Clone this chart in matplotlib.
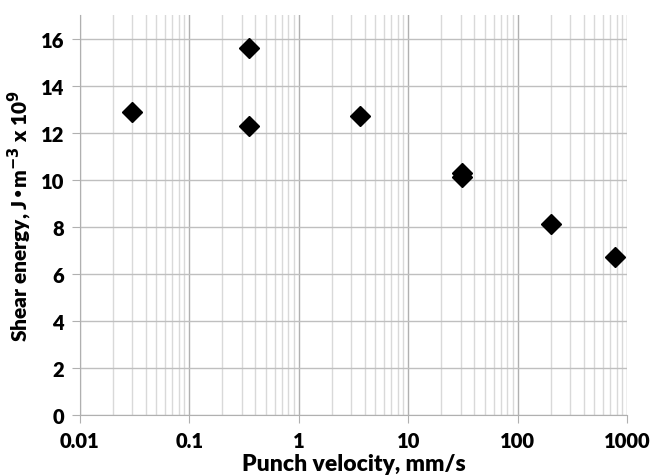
import matplotlib
matplotlib.use('Agg')
import matplotlib.pyplot as plt
from matplotlib.ticker import LogLocator, FixedLocator, NullFormatter

# punch velocity (mm/s) and shear energy (J m^-3 x 1e9)
velocity = [0.03, 0.35, 0.35, 3.6, 31, 31, 200, 780]
energy = [12.9, 15.6, 12.3, 12.7, 10.3, 10.1, 8.1, 6.7]

x_ticks = [0.01, 0.1, 1, 10, 100, 1000]
x_tick_labels = ['0.01', '0.1', '1', '10', '100', '1000']
y_ticks = [0, 2, 4, 6, 8, 10, 12, 14, 16]

plt.rcParams['font.family'] = ['Lato', 'DejaVu Sans']

fig = plt.figure(figsize=(6.5, 4.77), dpi=100)
ax = fig.add_axes([0.123, 0.128, 0.842, 0.838])

ax.set_xscale('log')
ax.set_xlim(0.01, 1000)
ax.set_ylim(0, 17)

ax.xaxis.set_major_locator(FixedLocator(x_ticks))
ax.set_xticklabels(x_tick_labels)
ax.xaxis.set_minor_locator(LogLocator(base=10, subs=range(2, 10), numticks=20))
ax.xaxis.set_minor_formatter(NullFormatter())
ax.set_yticks(y_ticks)

ax.grid(True, which='major', axis='x', color='#b0b0b0', lw=1.0)
ax.grid(True, which='minor', axis='x', color='#d9d9d9', lw=1.0)
ax.grid(True, which='major', axis='y', color='#bfbfbf', lw=1.0)
ax.set_axisbelow(True)

for s in ['top', 'right']:
    ax.spines[s].set_visible(False)
for s in ['left', 'bottom']:
    ax.spines[s].set_color('#b0b0b0')

ax.tick_params(axis='both', which='major', length=5.5, color='#b0b0b0',
               labelsize=14.5, pad=6)
ax.tick_params(axis='x', which='minor', length=0)
for lab in ax.get_xticklabels() + ax.get_yticklabels():
    lab.set_fontweight('heavy')

ax.plot(velocity, energy, 'D', color='black', markersize=10, clip_on=False)

ax.set_xlabel('Punch velocity, mm/s', fontsize=16.5, fontweight='heavy', labelpad=2)
ax.set_ylabel('Shear energy, J\u2022m$^{\\mathbf{-3}}$ x 10$^{\\mathbf{9}}$',
              fontsize=15, fontweight='heavy', labelpad=5)

fig.savefig('out.png', dpi=100)
